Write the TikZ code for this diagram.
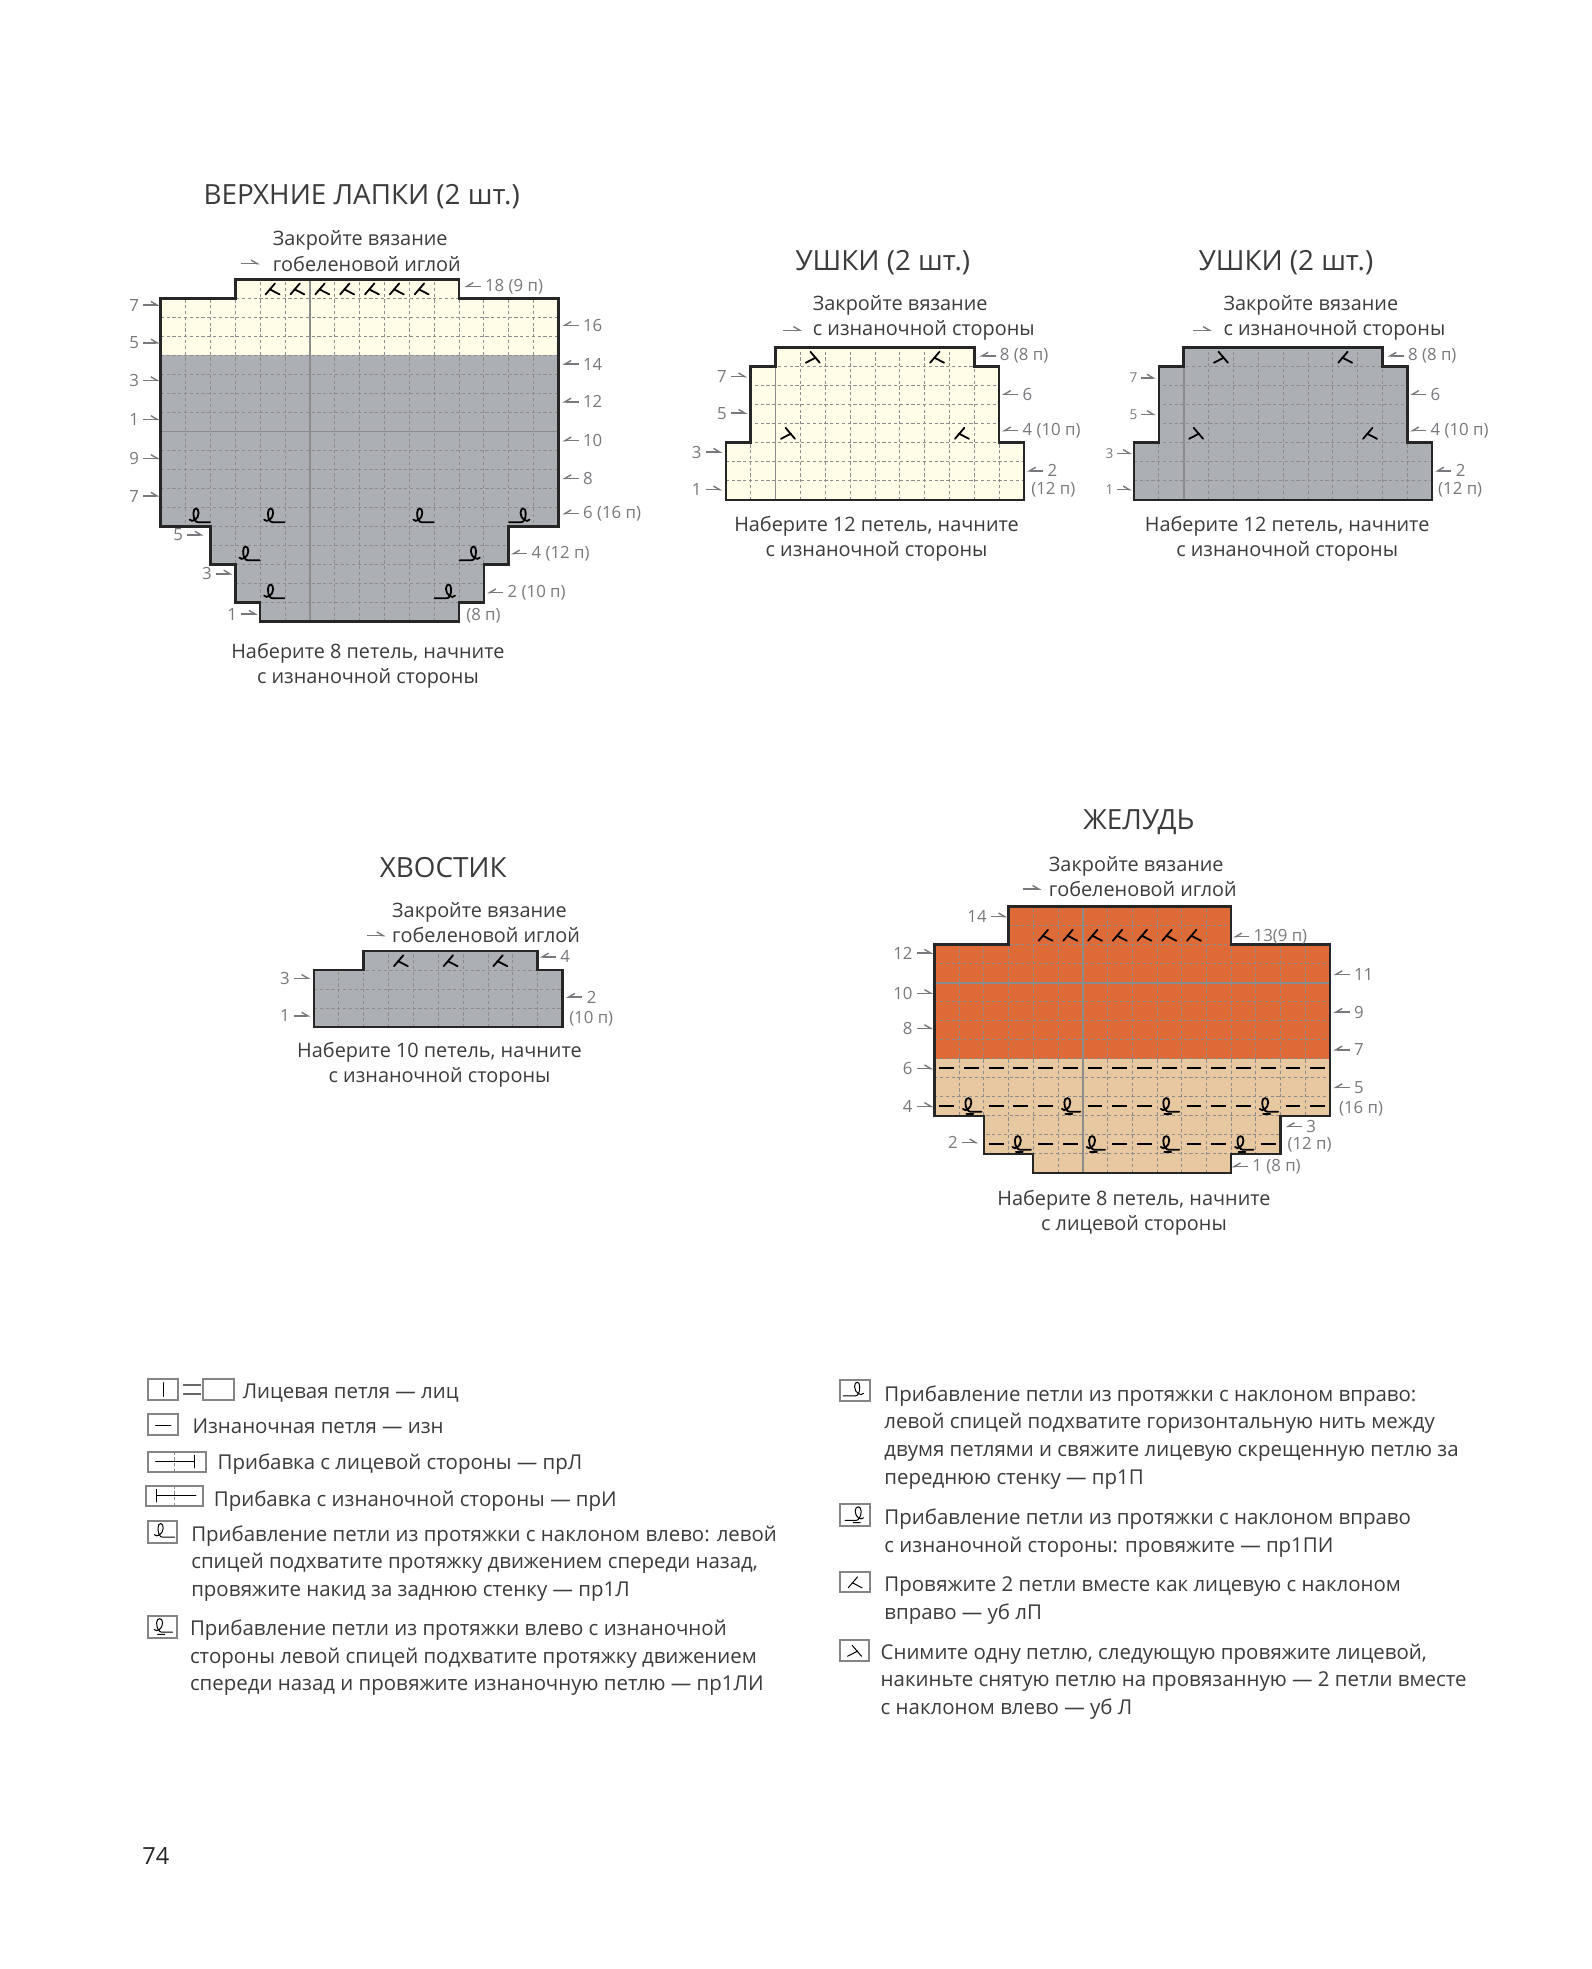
\documentclass[tikz,border=0pt]{standalone}
\usepackage{fontspec}
\setmainfont{Open Sans}
\usetikzlibrary{arrows.meta}
\definecolor{txtcol}{HTML}{3C3A3A}
\definecolor{numcol}{HTML}{77787B}
\definecolor{gryfill}{HTML}{ACAFB3}
\definecolor{crmfill}{HTML}{FFFCE8}
\definecolor{orgfill}{HTML}{DE6A37}
\definecolor{tanfill}{HTML}{E8C8A0}
\tikzset{
  cell/.style={x=12.43pt,y=9.51pt},
  outln/.style={line width=1.25pt, draw=black!85, line join=miter},
  gridln/.style={line width=.4pt, draw=black!45, dash pattern=on 1.6pt off 1.3pt},
  hvln/.style={line width=.9pt, draw=black!45},
  symb/.style={line width=.9pt, black, line cap=round},
  purlln/.style={line width=.95pt, black},
  rarr/.style={-{Straight Barb[harpoon,length=1.1mm,width=1.3mm]}, line width=.7pt, numcol},
  larr/.style={-{Straight Barb[harpoon,swap,length=1.1mm,width=1.3mm]}, line width=.7pt, numcol},
  numl/.style={inner sep=0pt, text=numcol, font=\fontsize{8.4}{10}\selectfont},
  nums/.style={inner sep=0pt, text=numcol, font=\fontsize{6.8}{8}\selectfont},
  ttl/.style={inner sep=0pt, text=txtcol, font=\fontsize{13.9}{16}\selectfont},
  captx/.style={inner sep=0pt, text=txtcol, align=center, font=\fontsize{9.93}{12.6}\selectfont},
  captxl/.style={captx, align=left, anchor=west},
  lgd/.style={inner sep=0pt, text=txtcol, align=left, anchor=north west, font=\fontsize{10.22}{13.9}\selectfont},
  lbox/.style={line width=1pt, draw=black!48, fill=white},
  kr/.pic={\draw[symb] (-3.5pt,-2.8pt) -- (1.2pt,2.7pt) (-1.5pt,-.2pt) -- (3.5pt,-2.8pt);},
  kl/.pic={\draw[symb] (3.5pt,-2.8pt) -- (-1.2pt,2.7pt) (1.5pt,-.2pt) -- (-3.5pt,-2.8pt);},
  ml/.pic={\draw[symb] (-4.2pt,-1.3pt) .. controls (-3pt,-3pt) and (.3pt,-1pt) .. (.3pt,2pt) .. controls (.3pt,5pt) and (-2.3pt,5pt) .. (-2.3pt,2pt) .. controls (-2.3pt,-1pt) and (-1.4pt,-2.6pt) .. (0pt,-2.6pt) -- (6pt,-2.6pt);},
  mr/.pic={\draw[symb] (4.2pt,-1.3pt) .. controls (3pt,-3pt) and (-.3pt,-1pt) .. (-.3pt,2pt) .. controls (-.3pt,5pt) and (2.3pt,5pt) .. (2.3pt,2pt) .. controls (2.3pt,-1pt) and (1.4pt,-2.6pt) .. (0pt,-2.6pt) -- (-6pt,-2.6pt);},
  mlp/.pic={\draw[symb] (-4.2pt,-1.3pt) .. controls (-3pt,-3pt) and (0pt,-1pt) .. (0pt,2pt) .. controls (0pt,4.8pt) and (-3pt,4.8pt) .. (-3pt,2pt) .. controls (-3pt,-1pt) and (-1.6pt,-2.7pt) .. (-.4pt,-2.7pt) -- (5pt,-2.7pt) (-2.5pt,-3.8pt) -- (1pt,-3.8pt);},
  mrp/.pic={\draw[symb] (4.2pt,-1.3pt) .. controls (3pt,-3pt) and (0pt,-1pt) .. (0pt,2pt) .. controls (0pt,4.8pt) and (3pt,4.8pt) .. (3pt,2pt) .. controls (3pt,-1pt) and (1.6pt,-2.7pt) .. (.4pt,-2.7pt) -- (-5pt,-2.7pt) (2.5pt,-3.8pt) -- (-1pt,-3.8pt);},
}

\begin{document}
\begin{tikzpicture}[x=0.628pt,y=-0.628pt]
  \useasboundingbox (0,0) rectangle (1267,1568);

  % upper paws
  \node[ttl] (ttlA) at (288,156.5) {ВЕРХНИЕ ЛАПКИ (2 шт.)};
  \node[captxl] (capA) at (217,200) {Закройте вязание\\гобеленовой иглой};
  \draw[rarr] ([xshift=-15.7pt,yshift=-6.3pt]capA.west) -- ++(15,0);
  \node[captx] (setA) at (293,530) {Наберите 8 петель, начните\\с изнаночной стороны};
  \begin{scope}[shift={(128,495)},cell]
    \def\outl{(4,0) -- (12,0) -- (12,1) -- (13,1) -- (13,3) -- (14,3) -- (14,5) -- (16,5) -- (16,17) -- (12,17) -- (12,18) -- (3,18) -- (3,17) -- (0,17) -- (0,5) -- (2,5) -- (2,3) -- (3,3) -- (3,1) -- (4,1) -- cycle}
    \fill[gryfill] \outl;
    \begin{scope}
      \clip \outl;
      \fill[crmfill] (0,14) rectangle (16,18);
      \foreach \i in {1,...,15} \draw[gridln] (\i,0) -- (\i,18);
      \foreach \j in {1,...,17} \draw[gridln] (0,\j) -- (16,\j);
    \end{scope}
    \draw[hvln] (0,10) -- (16,10);
    \draw[hvln] (6,0) -- (6,18);
    \draw[outln] \outl;
    \foreach \c in {4.5,5.5,...,10.5} \pic at (\c,17.5) {kr};
    \foreach \c/\j in {1.5/5.5,4.5/5.5,3.5/3.5,4.5/1.5,10.5/5.5} \pic at (\c,\j) {ml};
    \foreach \c/\j in {14.5/5.5,12.5/3.5,11.5/1.5} \pic at (\c,\j) {mr};
  \end{scope}
  \foreach \t/\x/\y [count=\i] in {7/111/243,5/111/273,3/111/303,1/111/334,9/111/365,7/111/395,5/146/426,3/169/457,1/189/489} {
    \node[numl,anchor=east] (al\i) at (\x,\y) {\t};
    \draw[rarr] ([xshift=2pt]al\i.east) -- ++(13,0);
  }
  \foreach \t/\x/\y [count=\i] in {{18 (9 п)}/386/228,16/464/259,14/464/290,12/464/320,10/464/351,8/464/381,{6 (16 п)}/464/409,{4 (12 п)}/423/441,{2 (10 п)}/404/472} {
    \node[numl,anchor=west] (ar\i) at (\x,\y) {\t};
    \draw[larr] ([xshift=-2pt]ar\i.west) -- ++(-13,0);
  }
  \node[numl,anchor=west] (ax) at (371,490) {(8 п)};

  % ears, cream
  \node[ttl] (ttlB) at (703,209.5) {УШКИ (2 шт.)};
  \node[captxl] (capB) at (647,253) {Закройте вязание\\с изнаночной стороны};
  \draw[rarr] ([xshift=-14.5pt,yshift=-6.3pt]capB.west) -- ++(15,0);
  \node[captx] (setB) at (698,429) {Наберите 12 петель, начните\\с изнаночной стороны};
  \begin{scope}[shift={(578,398)},cell]
    \def\outl{(0,0) -- (12,0) -- (12,3) -- (11,3) -- (11,7) -- (10,7) -- (10,8) -- (2,8) -- (2,7) -- (1,7) -- (1,3) -- (0,3) -- cycle}
    \fill[crmfill] \outl;
    \begin{scope}
      \clip \outl;
      \foreach \i in {1,...,11} \draw[gridln] (\i,0) -- (\i,8);
      \foreach \j in {1,...,7} \draw[gridln] (0,\j) -- (12,\j);
    \end{scope}
    \draw[hvln] (2,0) -- (2,8);
    \draw[outln] \outl;
    \foreach \c/\j in {3.5/7.5,2.5/3.5} \pic at (\c,\j) {kl};
    \foreach \c/\j in {8.5/7.5,9.5/3.5} \pic at (\c,\j) {kr};
  \end{scope}
  \foreach \t/\x/\y [count=\i] in {7/579/300,5/579/329,3/559/360,1/559/390} {
    \node[numl,anchor=east] (bl\i) at (\x,\y) {\t};
    \draw[rarr] ([xshift=2pt]bl\i.east) -- ++(13,0);
  }
  \foreach \t/\x/\y [count=\i] in {{8 (8 п)}/796/283.5,6/814/314,{4 (10 п)}/814/343,2/834/375} {
    \node[numl,anchor=west] (br\i) at (\x,\y) {\t};
    \draw[larr] ([xshift=-2pt]br\i.west) -- ++(-13,0);
  }
  \node[numl,anchor=west] (bx) at (821,390) {(12 п)};

  % ears, gray
  \node[ttl] (ttlC) at (1024,209.5) {УШКИ (2 шт.)};
  \node[captxl] (capC) at (974,253) {Закройте вязание\\с изнаночной стороны};
  \draw[rarr] ([xshift=-15pt,yshift=-6.3pt]capC.west) -- ++(15,0);
  \node[captx] (setC) at (1025,429) {Наберите 12 петель, начните\\с изнаночной стороны};
  \begin{scope}[shift={(903,398)},cell]
    \def\outl{(0,0) -- (12,0) -- (12,3) -- (11,3) -- (11,7) -- (10,7) -- (10,8) -- (2,8) -- (2,7) -- (1,7) -- (1,3) -- (0,3) -- cycle}
    \fill[gryfill] \outl;
    \begin{scope}
      \clip \outl;
      \foreach \i in {1,...,11} \draw[gridln] (\i,0) -- (\i,8);
      \foreach \j in {1,...,7} \draw[gridln] (0,\j) -- (12,\j);
    \end{scope}
    \draw[hvln] (2,0) -- (2,8);
    \draw[outln] \outl;
    \foreach \c/\j in {3.5/7.5,2.5/3.5} \pic at (\c,\j) {kl};
    \foreach \c/\j in {8.5/7.5,9.5/3.5} \pic at (\c,\j) {kr};
  \end{scope}
  \foreach \t/\x/\y [count=\i] in {7/906/301,5/906/330,3/887/361,1/887/390} {
    \node[nums,anchor=east] (cl\i) at (\x,\y) {\t};
    \draw[rarr] ([xshift=1.5pt]cl\i.east) -- ++(12,0);
  }
  \foreach \t/\x/\y [count=\i] in {{8 (8 п)}/1121/283.5,6/1139/314,{4 (10 п)}/1139/343,2/1159/375} {
    \node[numl,anchor=west] (cr\i) at (\x,\y) {\t};
    \draw[larr] ([xshift=-2pt]cr\i.west) -- ++(-13,0);
  }
  \node[numl,anchor=west] (cx) at (1145,390) {(12 п)};

  % tail
  \node[ttl] (ttlD) at (353,691) {ХВОСТИК};
  \node[captxl] (capD) at (312,735) {Закройте вязание\\гобеленовой иглой};
  \draw[rarr] ([xshift=-12.5pt,yshift=-6.3pt]capD.west) -- ++(15,0);
  \node[captx] (setD) at (350,848) {Наберите 10 петель, начните\\с изнаночной стороны};
  \begin{scope}[shift={(250,818)},cell]
    \def\outl{(0,0) -- (10,0) -- (10,3) -- (9,3) -- (9,4) -- (2,4) -- (2,3) -- (0,3) -- cycle}
    \fill[gryfill] \outl;
    \begin{scope}
      \clip \outl;
      \foreach \i in {1,...,9} \draw[gridln] (\i,0) -- (\i,4);
      \foreach \j in {1,...,3} \draw[gridln] (0,\j) -- (10,\j);
    \end{scope}
    \draw[outln] \outl;
    \foreach \c in {3.5,5.5,7.5} \pic at (\c,3.5) {kr};
  \end{scope}
  \foreach \t/\x/\y [count=\i] in {3/231/779,1/231/809} {
    \node[numl,anchor=east] (dl\i) at (\x,\y) {\t};
    \draw[rarr] ([xshift=2pt]dl\i.east) -- ++(13,0);
  }
  \foreach \t/\x/\y [count=\i] in {4/446/762,2/467/794} {
    \node[numl,anchor=west] (dr\i) at (\x,\y) {\t};
    \draw[larr] ([xshift=-2pt]dr\i.west) -- ++(-13,0);
  }
  \node[numl,anchor=west] (dx) at (453,811) {(10 п)};

  % acorn
  \node[ttl] (ttlE) at (907,654.5) {ЖЕЛУДЬ};
  \node[captxl] (capE) at (835,698) {Закройте вязание\\гобеленовой иглой};
  \draw[rarr] ([xshift=-13pt,yshift=-6.3pt]capE.west) -- ++(15,0);
  \node[captx] (setE) at (903,966) {Наберите 8 петель, начните\\с лицевой стороны};
  \begin{scope}[shift={(744,934)},cell,x=12.37pt]
    \def\outl{(4,0) -- (12,0) -- (12,1) -- (14,1) -- (14,3) -- (16,3) -- (16,12) -- (12,12) -- (12,14) -- (3,14) -- (3,12) -- (0,12) -- (0,3) -- (2,3) -- (2,1) -- (4,1) -- cycle}
    \fill[tanfill] \outl;
    \begin{scope}
      \clip \outl;
      \fill[orgfill] (0,6) rectangle (16,14);
      \foreach \i in {1,...,15} \draw[gridln] (\i,0) -- (\i,14);
      \foreach \j in {1,...,13} \draw[gridln] (0,\j) -- (16,\j);
    \end{scope}
    \draw[hvln] (0,10) -- (16,10);
    \draw[hvln] (6,0) -- (6,14);
    \draw[outln] \outl;
    \foreach \c in {4.5,5.5,...,10.5} \pic at (\c,12.5) {kr};
    \foreach \c in {0,...,15} \draw[purlln] (\c+.2,5.5) -- (\c+.8,5.5);
    \foreach \c in {0,2,3,4,6,7,8,10,11,12,14,15} \draw[purlln] (\c+.2,3.5) -- (\c+.8,3.5);
    \foreach \c in {2,4,5,7,8,10,11,13} \draw[purlln] (\c+.2,1.5) -- (\c+.8,1.5);
    \foreach \c/\j in {1.5/3.5,5.5/3.5,9.5/3.5,13.5/3.5,3.5/1.5,6.5/1.5,9.5/1.5,12.5/1.5} \pic at (\c,\j) {mlp};
  \end{scope}
  \foreach \t/\x/\y [count=\i] in {14/786/730,12/727/759,10/727/791,8/727/819,6/727/851,4/727/881,2/763/910} {
    \node[numl,anchor=east] (el\i) at (\x,\y) {\t};
    \draw[rarr] ([xshift=2pt]el\i.east) -- ++(13,0);
  }
  \foreach \t/\x/\y [count=\i] in {{13(9 п)}/998/746,11/1078/776,9/1078/806,7/1078/836,5/1078/866,3/1040/897,{1 (8 п)}/997/929} {
    \node[numl,anchor=west] (er\i) at (\x,\y) {\t};
    \draw[larr] ([xshift=-2pt]er\i.west) -- ++(-13,0);
  }
  \node[numl,anchor=west] (ex) at (1066,883) {(16 п)};
  \node[numl,anchor=west] (ey) at (1025,912) {(12 п)};

  % legend, left column
  \begin{scope}[symb/.style={line width=.5pt, black, line cap=round}]
    \draw[lbox] (118,1098) rectangle (142,1115);
    \draw[symb] (130,1101) -- (130,1112);
    \draw[line width=.7pt,black!60] (146,1103) -- (160,1103) (146,1110) -- (160,1110);
    \draw[lbox] (162,1098) rectangle (186,1115);
    \draw[lbox] (118,1126) rectangle (142,1143);
    \draw[symb] (124,1135) -- (136,1135);
    \draw[lbox] (118,1156) rectangle (164,1172);
    \draw[symb] (124,1164) -- (155,1164) (155,1159) -- (155,1169);
    \draw[gridln] (139,1156) -- (139,1172);
    \draw[lbox] (116,1183) rectangle (162,1199);
    \draw[symb] (125,1191) -- (156,1191) (125,1186) -- (125,1196);
    \draw[gridln] (139,1183) -- (139,1199);
    \draw[lbox] (118,1211) rectangle (141,1229);
    \pic at (129.5,1220) {ml};
    \draw[lbox] (118,1287) rectangle (141,1304);
    \pic at (129.5,1295.5) {mlp};
    % legend, right column
    \draw[lbox] (669,1099) rectangle (693,1116);
    \pic at (681,1107.5) {mr};
    \draw[lbox] (669,1198) rectangle (693,1215);
    \pic at (681,1206.5) {mrp};
    \draw[lbox] (669,1252) rectangle (693,1268);
    \pic at (681,1260) {kr};
    \draw[lbox] (669,1306) rectangle (692,1323);
    \pic at (680.5,1314.5) {kl};
  \end{scope}
  \node[lgd] (t1) at (193,1101.5) {Лицевая петля — лиц};
  \node[lgd] (t2) at (153,1129.5) {Изнаночная петля — изн};
  \node[lgd] (t3) at (173,1157.5) {Прибавка с лицевой стороны — прЛ};
  \node[lgd] (t4) at (170,1186.5) {Прибавка с изнаночной стороны — прИ};
  \node[lgd] (t5) at (152,1214.5) {Прибавление петли из протяжки с наклоном влево: левой\\спицей подхватите протяжку движением спереди назад,\\провяжите накид за заднюю стенку — пр1Л};
  \node[lgd] (t6) at (151,1289.5) {Прибавление петли из протяжки влево с изнаночной\\стороны левой спицей подхватите протяжку движением\\спереди назад и провяжите изнаночную петлю — пр1ЛИ};
  \node[lgd] (t7) at (704,1103) {Прибавление петли из протяжки с наклоном вправо:\\левой спицей подхватите горизонтальную нить между\\двумя петлями и свяжите лицевую скрещенную петлю за\\переднюю стенку — пр1П};
  \node[lgd] (t8) at (704,1201) {Прибавление петли из протяжки с наклоном вправо\\с изнаночной стороны: провяжите — пр1ПИ};
  \node[lgd] (t9) at (704,1255.5) {Провяжите 2 петли вместе как лицевую с наклоном\\вправо — уб лП};
  \node[lgd] (t10) at (701,1308.5) {Снимите одну петлю, следующую провяжите лицевой,\\накиньте снятую петлю на провязанную — 2 петли вместе\\с наклоном влево — уб Л};
  \node[inner sep=0pt,anchor=west,text=black!85,font=\fontsize{11.8}{14}\selectfont] (pnum) at (113,1478) {74};
\end{tikzpicture}
\end{document}
